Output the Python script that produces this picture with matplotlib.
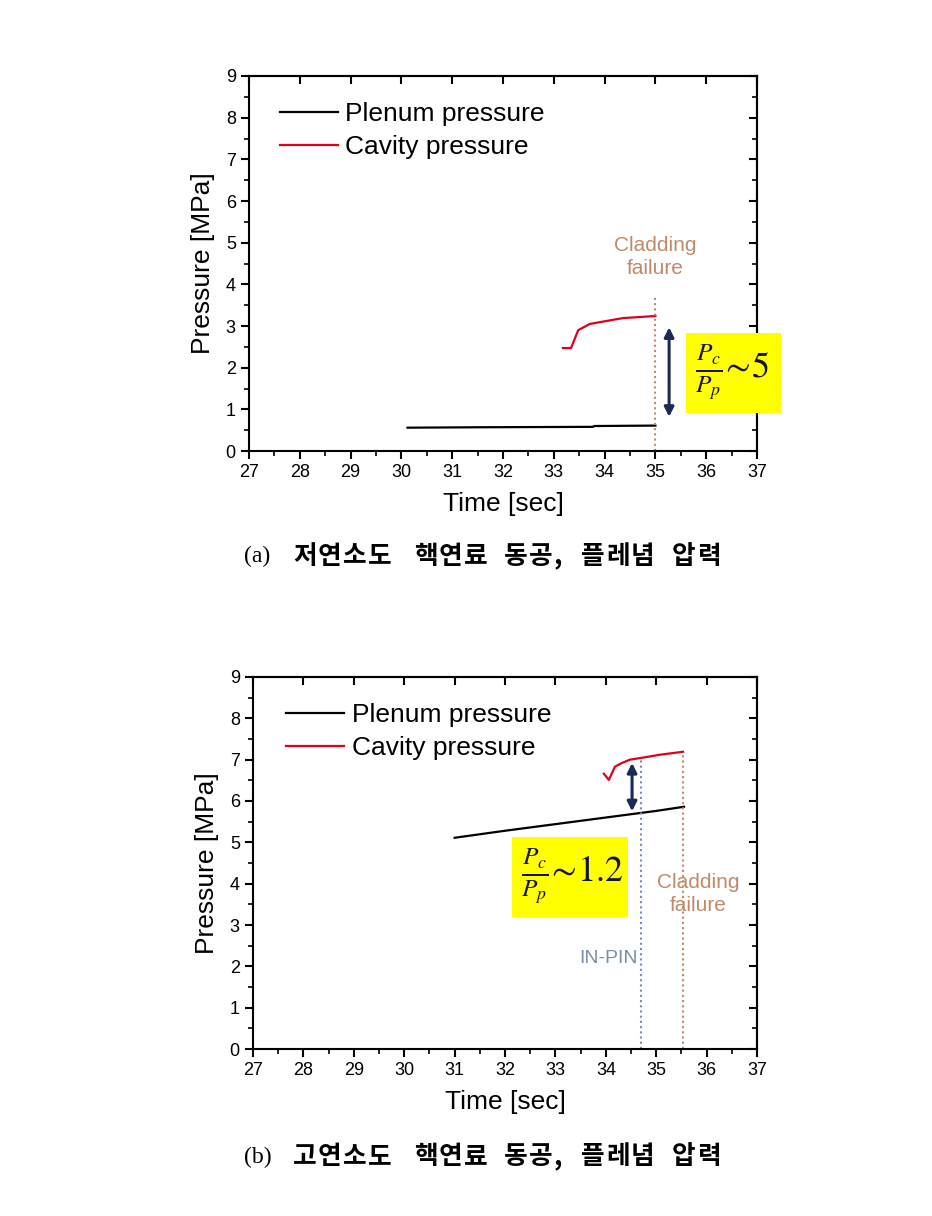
import numpy as np
import matplotlib
matplotlib.use('Agg')
import matplotlib.pyplot as plt
from matplotlib.patches import Rectangle
from matplotlib.ticker import MultipleLocator, NullLocator

plt.rcParams['font.family'] = ['Liberation Sans', 'DejaVu Sans']
plt.rcParams['mathtext.fontset'] = 'stix'

# (a) 저연소도
a_plenum_t = [30.12, 31.5, 33.77, 33.8, 35.0]
a_plenum_p = [0.56, 0.57, 0.58, 0.60, 0.61]
a_cavity_t = [33.18, 33.34, 33.48, 33.71, 34.36, 35.0]
a_cavity_p = [2.47, 2.47, 2.90, 3.05, 3.19, 3.24]
a_fail_t = 35.0

# (b) 고연소도
b_plenum_t = [31.0, 32.0, 33.0, 34.0, 35.0, 35.55]
b_plenum_p = [5.11, 5.28, 5.44, 5.6, 5.76, 5.86]
b_cavity_t = [33.96, 34.06, 34.18, 34.32, 34.48, 34.74, 35.08, 35.53]
b_cavity_p = [6.66, 6.51, 6.83, 6.92, 7.0, 7.05, 7.12, 7.19]
b_inpin_t = 34.70
b_fail_t = 35.53

legend_labels = ['Plenum pressure', 'Cavity pressure']
cap_tags = ['(a)', '(b)']
cap_words = [['저연소도', '핵연료', '동공,', '플레념', '압력'],
             ['고연소도', '핵연료', '동공,', '플레념', '압력']]
word_x = [293, 414, 504, 581, 672]  # left edge px of each word

brown = '#c08a68'
navy = '#1c2a55'
steel = '#7a90a8'

W, H = 932, 1216
fig = plt.figure(figsize=(9.32, 12.16), dpi=100)
ax1 = fig.add_axes([0.2672, 0.6291, 0.545, 0.3084])
ax2 = fig.add_axes([0.2715, 0.1373, 0.5408, 0.306])


def style(ax):
    ax.set_xlim(27, 37)
    ax.set_ylim(0, 9)
    ax.xaxis.set_major_locator(MultipleLocator(1))
    ax.xaxis.set_minor_locator(MultipleLocator(0.5))
    ax.yaxis.set_major_locator(MultipleLocator(1))
    ax.yaxis.set_minor_locator(MultipleLocator(0.5))
    ax.tick_params(which='major', direction='out', length=6, width=1.5, labelsize=13)
    ax.tick_params(which='minor', direction='out', length=3.5, width=1.2)
    for s in ax.spines.values():
        s.set_linewidth(1.5)
    # top and right: inward ticks, no labels
    top = ax.secondary_xaxis('top')
    top.xaxis.set_major_locator(MultipleLocator(1))
    top.xaxis.set_minor_locator(NullLocator())
    top.tick_params(direction='in', length=6, width=1.5, labeltop=False)
    right = ax.secondary_yaxis('right')
    right.yaxis.set_major_locator(MultipleLocator(1))
    right.yaxis.set_minor_locator(MultipleLocator(0.5))
    right.tick_params(which='major', direction='in', length=6, width=1.5, labelright=False)
    right.tick_params(which='minor', direction='in', length=3.5, width=1.2)
    for sec in (top, right):
        for s in sec.spines.values():
            s.set_linewidth(1.5)
    ax.set_xlabel('Time [sec]', fontsize=19, labelpad=8)
    ax.set_ylabel('Pressure [MPa]', fontsize=19, labelpad=8)


for ax in (ax1, ax2):
    style(ax)

l1, = ax1.plot(a_plenum_t, a_plenum_p, color='black', lw=1.6)
l2, = ax1.plot(a_cavity_t, a_cavity_p, color='#e0001b', lw=1.6)
ax1.legend([l1, l2], legend_labels, loc='upper left', bbox_to_anchor=(0.06, 0.93),
           frameon=False, fontsize=19, handlelength=2.2, handletextpad=0.3,
           labelspacing=0.35, borderaxespad=0, borderpad=0)
ax1.vlines(a_fail_t, 0, 3.72, colors=brown, linestyles=(0, (1, 1.5)), lw=1.5)
ax1.text(a_fail_t, 4.65, 'Cladding\nfailure', color=brown, fontsize=15,
         ha='center', va='center', linespacing=1.25)
ax1.annotate('', xy=(35.27, 2.97), xytext=(35.27, 0.82),
             arrowprops=dict(arrowstyle='<|-|>', color=navy, lw=2.2,
                             mutation_scale=14, shrinkA=0, shrinkB=0))

m1, = ax2.plot(b_plenum_t, b_plenum_p, color='black', lw=1.6)
m2, = ax2.plot(b_cavity_t, b_cavity_p, color='#e0001b', lw=1.6)
ax2.legend([m1, m2], legend_labels, loc='upper left', bbox_to_anchor=(0.065, 0.93),
           frameon=False, fontsize=19, handlelength=2.2, handletextpad=0.3,
           labelspacing=0.35, borderaxespad=0, borderpad=0)
ax2.vlines(b_inpin_t, 0, 7.0, colors=steel, linestyles=(0, (1, 1.5)), lw=1.5)
ax2.vlines(b_fail_t, 0, 7.19, colors=brown, linestyles=(0, (1, 1.5)), lw=1.5)
ax2.text(b_fail_t + 0.3, 3.75, 'Cladding\nfailure', color=brown, fontsize=15,
         ha='center', va='center', linespacing=1.25)
ax2.text(b_inpin_t - 0.64, 2.2, 'IN-PIN', color=steel, fontsize=14,
         ha='center', va='center')
ax2.annotate('', xy=(34.52, 6.92), xytext=(34.52, 5.75),
             arrowprops=dict(arrowstyle='<|-|>', color=navy, lw=2.2,
                             mutation_scale=14, shrinkA=0, shrinkB=0))


# yellow ratio boxes (figure pixel coords)
def ratio_box(x0, y0, x1, y1, txt):
    fig.patches.append(Rectangle((x0 / W, 1 - y1 / H), (x1 - x0) / W, (y1 - y0) / H,
                                 transform=fig.transFigure, facecolor='#ffff00',
                                 edgecolor='none', zorder=5))
    fig.text((x0 + 9) / W, 1 - (y0 + y1) / 2 / H, txt, fontsize=26, ha='left',
             va='center', zorder=6, color='#141438')

ratio_box(686, 333, 781, 413, r'$\frac{P_c}{P_p}\!\sim\!5$')
ratio_box(512, 837, 628, 917, r'$\frac{P_c}{P_p}\!\sim\!1.2$')

# captions, hangul set one by one for the wide letter spacing
for y, tag, words in zip([556, 1157], cap_tags, cap_words):
    fig.text(244 / W, 1 - y / H, tag, fontsize=17, ha='left', va='center',
             family=['Liberation Serif', 'DejaVu Serif'])
    for wx, w in zip(word_x, words):
        for k, ch in enumerate(w):
            fig.text((wx + 25 * k) / W, 1 - y / H, ch, fontsize=18.5, ha='left',
                     va='center', family=['Noto Sans CJK KR', 'DejaVu Sans'],
                     fontweight='bold')

fig.savefig('out.png', dpi=100)
